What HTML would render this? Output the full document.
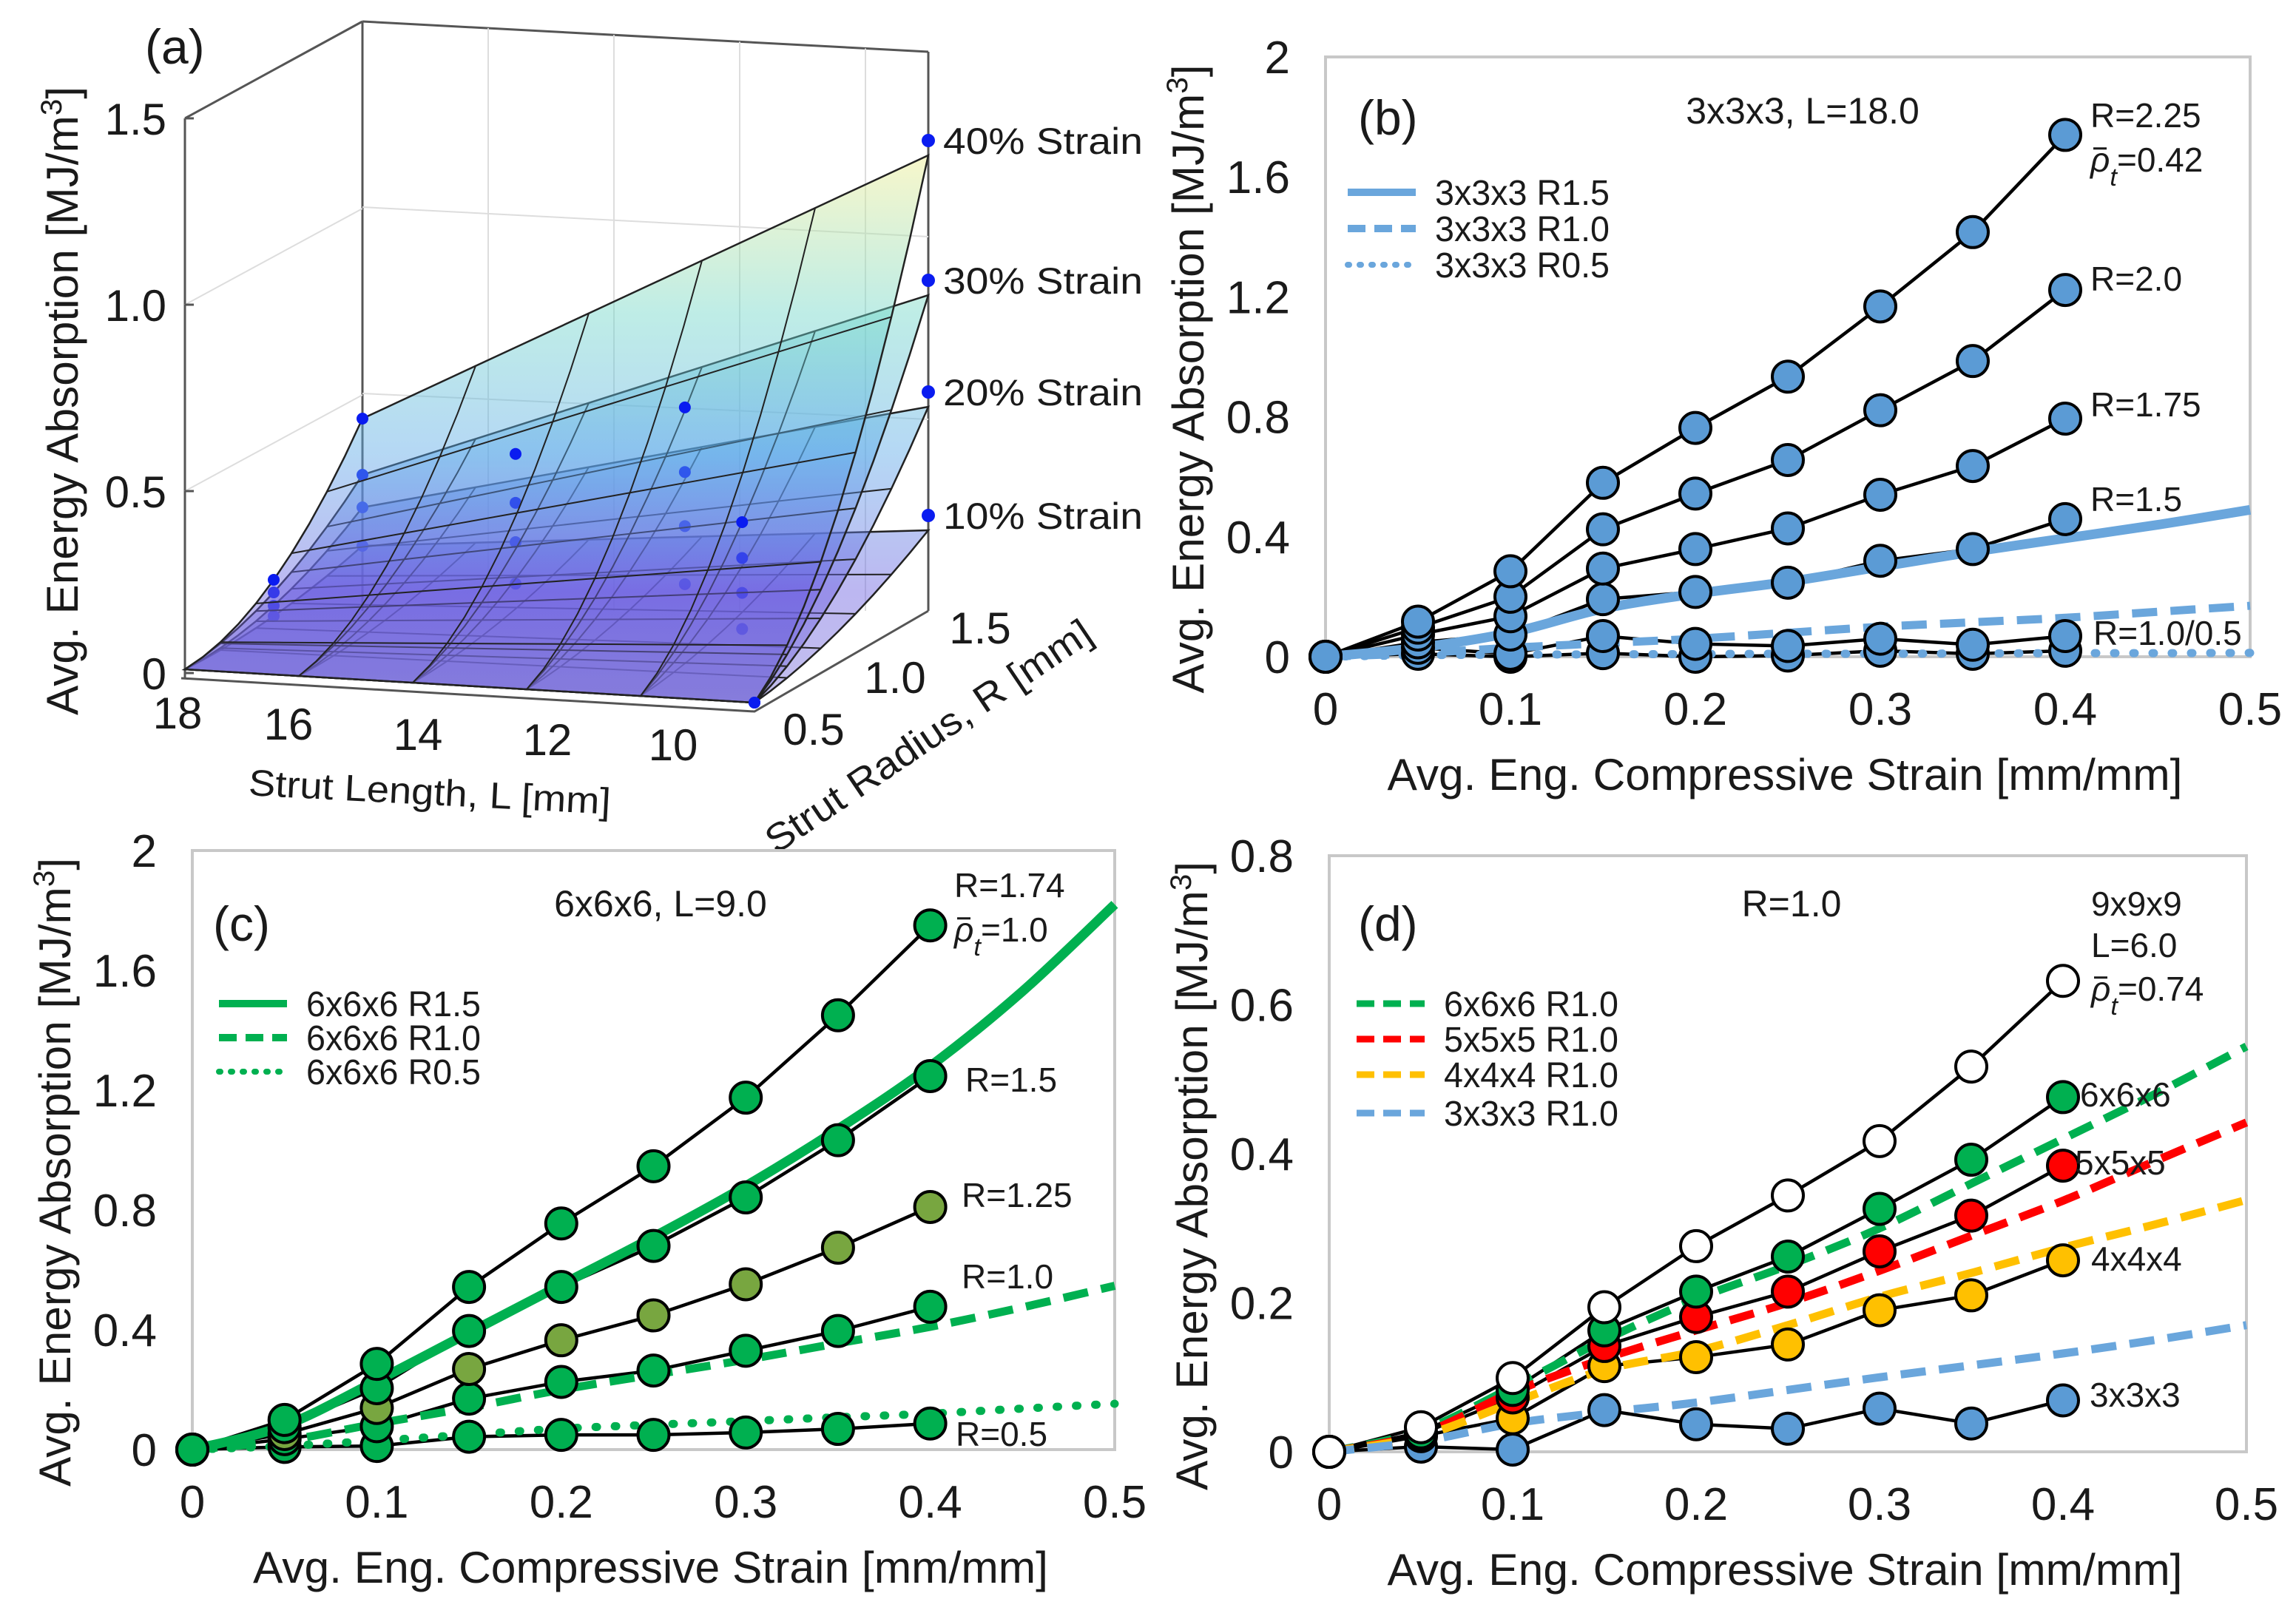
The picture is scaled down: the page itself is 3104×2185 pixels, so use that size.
<!DOCTYPE html>
<html><head><meta charset="utf-8">
<style>
html,body{margin:0;padding:0;background:#fff;}
svg{display:block;}
text{font-family:"Liberation Sans",sans-serif;fill:#1a1a1a;}
</style></head>
<body>
<svg id="fig" width="3104" height="2185" viewBox="0 0 3104 2185" xmlns="http://www.w3.org/2000/svg">
<defs>
<linearGradient id="surfGrad" gradientUnits="userSpaceOnUse" x1="0" y1="200" x2="0" y2="950">
<stop offset="0" stop-color="#f4ee88"/>
<stop offset="0.3" stop-color="#6fd6c8"/>
<stop offset="0.55" stop-color="#5aa8e8"/>
<stop offset="0.8" stop-color="#6b5fe0"/>
<stop offset="1" stop-color="#7a70d8"/>
</linearGradient>
</defs>
<g id="panelA"></g>
<g id="panelB"></g>
<g id="panelC"></g>
<g id="panelD"></g>
</svg>
<script>
// ---------- shared data ----------
const strainX = [0,0.05,0.1,0.15,0.2,0.25,0.3,0.35,0.4];
const fitX = [0,0.05,0.1,0.15,0.2,0.25,0.3,0.35,0.4,0.45,0.5];
const xTickLabels = ["0","0.1","0.2","0.3","0.4","0.5"];
const xTickValues = [0,0.1,0.2,0.3,0.4,0.5];

// Panel (b)
const bTickValues = [0,0.4,0.8,1.2,1.6,2];
const bTickLabels = ["0","0.4","0.8","1.2","1.6","2"];
const bR225 = [0,0.117,0.285,0.58,0.763,0.934,1.168,1.416,1.74];
const bR200 = [0,0.097,0.2,0.425,0.544,0.656,0.822,0.986,1.223];
const bR175 = [0,0.074,0.135,0.294,0.359,0.428,0.54,0.636,0.794];
const bR150 = [0,0.048,0.074,0.192,0.216,0.247,0.32,0.359,0.459];
const bR100 = [0,0.03,0.01,0.069,0.043,0.036,0.06,0.04,0.069];
const bR050 = [0,0.01,0.0,0.012,0.0,0.004,0.02,0.01,0.02];
const bFit15 = [0,0.03,0.08,0.16,0.21,0.25,0.3,0.35,0.395,0.44,0.49];
const bFit10 = [0,0.012,0.03,0.045,0.06,0.08,0.1,0.115,0.13,0.15,0.17];
const bFit05 = [0,0.005,0.007,0.008,0.009,0.01,0.01,0.011,0.012,0.012,0.013];

// Panel (c)
const cR174 = [0,0.099,0.286,0.543,0.755,0.946,1.175,1.45,1.75];
const cR150 = [0,0.075,0.205,0.396,0.543,0.68,0.842,1.033,1.247];
const cR125 = [0,0.052,0.139,0.269,0.365,0.448,0.552,0.674,0.81];
const cR100 = [0,0.035,0.078,0.17,0.226,0.264,0.33,0.396,0.477];
const cR050 = [0,0.009,0.012,0.043,0.049,0.049,0.057,0.069,0.087];
const cFit15 = [0,0.08,0.23,0.39,0.55,0.71,0.88,1.07,1.28,1.53,1.82];
const cFit10 = [0,0.03,0.087,0.14,0.2,0.25,0.3,0.355,0.41,0.475,0.547];
const cFit05 = [0,0.012,0.03,0.05,0.07,0.083,0.095,0.108,0.12,0.137,0.153];

// Panel (d)
const dTickValues = [0,0.2,0.4,0.6,0.8];
const dTickLabels = ["0","0.2","0.4","0.6","0.8"];
const d999 = [0,0.033,0.099,0.194,0.276,0.344,0.417,0.517,0.632];
const d666 = [0,0.026,0.083,0.163,0.215,0.262,0.326,0.392,0.476];
const d555 = [0,0.024,0.073,0.142,0.181,0.215,0.269,0.317,0.384];
const d444 = [0,0.021,0.045,0.115,0.127,0.144,0.19,0.21,0.257];
const d333 = [0,0.007,0.003,0.056,0.037,0.031,0.058,0.038,0.069];
const dFit666 = [0,0.028,0.087,0.15,0.205,0.25,0.3,0.36,0.42,0.48,0.544];
const dFit555 = [0,0.024,0.08,0.125,0.163,0.2,0.243,0.29,0.337,0.39,0.442];
const dFit444 = [0,0.021,0.066,0.11,0.135,0.17,0.208,0.24,0.274,0.305,0.338];
const dFit333 = [0,0.014,0.038,0.053,0.066,0.083,0.1,0.116,0.132,0.15,0.17];

// Panel (a) 3D surface data: edge heights (screen y) for 10/20/30/40% strain
const aStrains = ["10% Strain","20% Strain","30% Strain","40% Strain"];
const aBackLeft = [738,686,642,566];
const aBackRight = [717,550,399,210];
const aMidLeft = [833,819,801,784];
const aMidRight = [854,798,745,690];
const aZTicks = ["0","0.5","1.0","1.5"];
const aLTicks = ["18","16","14","12","10"];
const aRTicks = ["0.5","1.0","1.5"];

const NS = "http://www.w3.org/2000/svg";
function mk(parent, tag, attrs, txt){
  const e = document.createElementNS(NS, tag);
  for (const k in attrs) e.setAttribute(k, attrs[k]);
  if (txt !== undefined) e.textContent = txt;
  parent.appendChild(e);
  return e;
}
function smoothPath(pts){
  let d = 'M'+pts[0][0]+','+pts[0][1];
  for (let i=0;i<pts.length-1;i++){
    const p0=pts[Math.max(0,i-1)], p1=pts[i], p2=pts[i+1], p3=pts[Math.min(pts.length-1,i+2)];
    const c1=[p1[0]+(p2[0]-p0[0])/6, p1[1]+(p2[1]-p0[1])/6];
    const c2=[p2[0]-(p3[0]-p1[0])/6, p2[1]-(p3[1]-p1[1])/6];
    d += ' C'+c1[0]+','+c1[1]+' '+c2[0]+','+c2[1]+' '+p2[0]+','+p2[1];
  }
  return d;
}

// ---------- generic 2D panel ----------
function drawPanel(g, cfg){
  const sx = v => cfg.x0 + (cfg.x1 - cfg.x0) * v / 0.5;
  const sy = v => cfg.y0 - (cfg.y0 - cfg.y1) * v / cfg.ymax;
  const box = mk(g,'rect',{x:cfg.x0,y:cfg.y1,width:cfg.x1-cfg.x0,height:cfg.y0-cfg.y1,fill:'none',stroke:'#c8c8c8','stroke-width':4});
  
  
  xTickValues.forEach((v,i)=>{
    const t = mk(g,'text',{x:sx(v),y:cfg.y0+92,'font-size':62,'text-anchor':'middle'}, xTickLabels[i]);
    
    
  });
  cfg.yTicks.forEach((v,i)=>{
    const t = mk(g,'text',{x:cfg.x0-48,y:sy(v)+22,'font-size':62,'text-anchor':'end'}, cfg.yLabels[i]);
    
    
  });
  const xt = mk(g,'text',{x:(cfg.x0+cfg.x1)/2-4,y:cfg.y0+180,'font-size':60,'text-anchor':'middle',textLength:1075,lengthAdjust:'spacingAndGlyphs'},'Avg. Eng. Compressive Strain [mm/mm]');
  
  
  const yc = (cfg.y0+cfg.y1)/2 + 30;
  const yt = mk(g,'text',{x:0,y:0,'font-size':60,'text-anchor':'middle',transform:`translate(${cfg.x0-165},${yc}) rotate(-90)`,textLength:850,lengthAdjust:'spacingAndGlyphs'});
  
  
  yt.appendChild(document.createTextNode('Avg. Energy Absorption [MJ/m'));
  mk(yt,'tspan',{'baseline-shift':'super','font-size':40},'3');
  yt.appendChild(document.createTextNode(']'));
  cfg.series.forEach(s=>{
    const pl = mk(g,'polyline',{points:strainX.map((x,i)=>sx(x)+','+sy(s.v[i])).join(' '),fill:'none',stroke:'#000','stroke-width':4.5});
    
    
  });
  cfg.fits.forEach(f=>{
    const pl = mk(g,'path',{d:smoothPath(fitX.map((x,i)=>[sx(x),sy(f.v[i])])),fill:'none',stroke:f.c,'stroke-width':f.w,'stroke-dasharray':f.d,'stroke-linecap':f.cap||'butt'});
    
    
  });
  cfg.series.forEach(s=>{
    strainX.forEach((x,i)=>{
      const c = mk(g,'circle',{cx:sx(x),cy:sy(s.v[i]),r:21,fill:s.c,stroke:'#000','stroke-width':4});
      
      
    });
  });
  cfg.legend.forEach((l,i)=>{
    const ly = cfg.legY[i];
    const ln = mk(g,'line',{x1:cfg.legX,y1:ly,x2:cfg.legX+92,y2:ly,stroke:l.c,'stroke-width':l.w,'stroke-dasharray':l.d,'stroke-linecap':l.cap||'butt'});
    
    
    const t = mk(g,'text',{x:cfg.legX+118,y:ly+17,'font-size':48,textLength:l.tl||236,lengthAdjust:'spacingAndGlyphs'},l.t);
    
    
  });
  cfg.notes.forEach(n=>{
    const fs = n.fs||46;
    const t = mk(g,'text',{x:n.x,y:n.y,'font-size':fs,'text-anchor':n.a||'start'});
    
    
    if (n.rho){
      mk(t,'tspan',{'font-style':'italic'},'ρ');
      mk(t,'tspan',{'font-style':'italic','baseline-shift':'sub','font-size':fs*0.75},'t');
      t.appendChild(document.createTextNode('='+n.t));
      const bar = mk(g,'line',{x1:n.x+4,y1:n.y-fs*0.68,x2:n.x+22,y2:n.y-fs*0.68,stroke:'#1a1a1a','stroke-width':3});
      
      
    } else t.textContent = n.t;
  });
}

const BLUE='#5b9bd5', GREEN='#00b050', OLIVE='#78a640', RED='#ff0000', YEL='#ffc000', FITB='#6aa6dc';
drawPanel(document.getElementById('panelB'),{
  x0:1792,x1:3042,y0:888,y1:77,ymax:2,yTicks:bTickValues,yLabels:bTickLabels,
  series:[{name:'r-0.5',v:bR050,c:BLUE},{name:'r-1.0',v:bR100,c:BLUE},{name:'r-1.5',v:bR150,c:BLUE},{name:'r-1.75',v:bR175,c:BLUE},{name:'r-2.0',v:bR200,c:BLUE},{name:'r-2.25',v:bR225,c:BLUE}],
  fits:[{name:'fit-r1.5',v:bFit15,c:FITB,w:13,d:'none'},{name:'fit-r1.0',v:bFit10,c:FITB,w:11,d:'34 18'},{name:'fit-r0.5',v:bFit05,c:FITB,w:11,d:'2 24',cap:'round'}],
  legX:1822,legY:[260,309,358],
  legend:[{t:'3x3x3 R1.5',c:FITB,w:10,d:'none'},{t:'3x3x3 R1.0',c:FITB,w:10,d:'24 12'},{t:'3x3x3 R0.5',c:FITB,w:8,d:'2 14',cap:'round'}],
  notes:[{t:'(b)',x:1836,y:182,fs:66,name:'panel-label'},{t:'3x3x3, L=18.0',x:2437,y:167,fs:50,a:'middle',name:'panel-title'},
    {t:'R=2.25',x:2826,y:172},{t:'0.42',x:2826,y:232,rho:true},{t:'R=2.0',x:2826,y:393},{t:'R=1.75',x:2826,y:563},{t:'R=1.5',x:2826,y:691},{t:'R=1.0/0.5',x:2830,y:872}]
});
drawPanel(document.getElementById('panelC'),{
  x0:260,x1:1507,y0:1960,y1:1150,ymax:2,yTicks:bTickValues,yLabels:bTickLabels,
  series:[{name:'r-0.5',v:cR050,c:GREEN},{name:'r-1.0',v:cR100,c:GREEN},{name:'r-1.25',v:cR125,c:OLIVE},{name:'r-1.5',v:cR150,c:GREEN},{name:'r-1.74',v:cR174,c:GREEN}],
  fits:[{name:'fit-r1.5',v:cFit15,c:GREEN,w:13,d:'none'},{name:'fit-r1.0',v:cFit10,c:GREEN,w:11,d:'34 18'},{name:'fit-r0.5',v:cFit05,c:GREEN,w:11,d:'2 24',cap:'round'}],
  legX:296,legY:[1357,1403,1449],
  legend:[{t:'6x6x6 R1.5',c:GREEN,w:10,d:'none'},{t:'6x6x6 R1.0',c:GREEN,w:10,d:'24 12'},{t:'6x6x6 R0.5',c:GREEN,w:8,d:'2 14',cap:'round'}],
  notes:[{t:'(c)',x:288,y:1272,fs:66,name:'panel-label'},{t:'6x6x6, L=9.0',x:893,y:1239,fs:50,a:'middle',name:'panel-title'},
    {t:'R=1.74',x:1290,y:1213},{t:'1.0',x:1290,y:1273,rho:true},{t:'R=1.5',x:1305,y:1476},{t:'R=1.25',x:1300,y:1632},{t:'R=1.0',x:1300,y:1742},{t:'R=0.5',x:1292,y:1955}]
});
drawPanel(document.getElementById('panelD'),{
  x0:1797,x1:3037,y0:1963,y1:1157,ymax:0.8,yTicks:dTickValues,yLabels:dTickLabels,
  series:[{name:'3x3x3',v:d333,c:BLUE},{name:'4x4x4',v:d444,c:YEL},{name:'5x5x5',v:d555,c:RED},{name:'6x6x6',v:d666,c:GREEN},{name:'9x9x9',v:d999,c:'#ffffff'}],
  fits:[{name:'fit-6x6x6',v:dFit666,c:GREEN,w:11,d:'34 18'},{name:'fit-5x5x5',v:dFit555,c:RED,w:11,d:'34 18'},{name:'fit-4x4x4',v:dFit444,c:YEL,w:11,d:'34 18'},{name:'fit-3x3x3',v:dFit333,c:FITB,w:11,d:'34 18'}],
  legX:1834,legY:[1357,1405,1453,1505],
  legend:[{t:'6x6x6 R1.0',c:GREEN,w:9,d:'24 12'},{t:'5x5x5 R1.0',c:RED,w:9,d:'24 12'},{t:'4x4x4 R1.0',c:YEL,w:9,d:'24 12'},{t:'3x3x3 R1.0',c:FITB,w:9,d:'24 12'}],
  notes:[{t:'(d)',x:1836,y:1272,fs:66,name:'panel-label'},{t:'R=1.0',x:2422,y:1239,fs:50,a:'middle',name:'panel-title'},
    {t:'9x9x9',x:2827,y:1238},{t:'L=6.0',x:2827,y:1294},{t:'0.74',x:2827,y:1353,rho:true},
    {t:'6x6x6',x:2812,y:1496},{t:'5x5x5',x:2805,y:1588},{t:'4x4x4',x:2827,y:1718},{t:'3x3x3',x:2825,y:1902}]
});

// ---------- panel (a) ----------
(function(){
  const g = document.getElementById('panelA');
  const gray = '#555';
  const walls = [[250,160,490,29],[490,29,1255,70],[490,29,490,826],[1255,70,1255,826],[250,160,250,917]];
  walls.forEach(w=>{const l=mk(g,'line',{x1:w[0],y1:w[1],x2:w[2],y2:w[3],stroke:gray,'stroke-width':3});
     });
  [660,830,1000,1170].forEach(x=>{const l=mk(g,'line',{x1:x,y1:29+(x-490)*41/765,x2:x,y2:826,stroke:'#ddd','stroke-width':2});
     });
  [[280,320],[532,567]].forEach(p=>{const l=mk(g,'line',{x1:490,y1:p[0],x2:1255,y2:p[1],stroke:'#ddd','stroke-width':2});
     });
  [412,664].forEach(y=>{const l=mk(g,'line',{x1:250,y1:y,x2:490,y2:y-130,stroke:'#ddd','stroke-width':2});
     });
  const fl = mk(g,'polyline',{points:'245,917 1020,962 1255,826',fill:'none',stroke:gray,'stroke-width':3});
   
  const FL=[250,905], FR=[1020,950];
  function q(a,b,c,t){return (1-t)*(1-t)*a+2*(1-t)*t*b+t*t*c;}
  for (let i=0;i<aStrains.length;i++){
    const BL=[490,aBackLeft[i]], BR=[1255,aBackRight[i]];
    const ML=[370,aMidLeft[i]], MR=[1133,aMidRight[i]];
    const P=(u,v)=>{
      const f=[FL[0]+(FR[0]-FL[0])*u, FL[1]+(FR[1]-FL[1])*u];
      const m=[ML[0]+(MR[0]-ML[0])*u, ML[1]+(MR[1]-ML[1])*u];
      const b=[BL[0]+(BR[0]-BL[0])*u, BL[1]+(BR[1]-BL[1])*u];
      const mx = 2*m[0]-0.5*(f[0]+b[0]), my = 2*m[1]-0.5*(f[1]+b[1]);
      return [q(f[0],mx,b[0],v), q(f[1],my,b[1],v)];
    };
    const pts=[];
    for(let k=0;k<=10;k++) pts.push(P(0,k/10));
    for(let k=0;k<=10;k++) pts.push(P(k/10,1));
    for(let k=10;k>=0;k--) pts.push(P(1,k/10));
    for(let k=10;k>=0;k--) pts.push(P(k/10,0));
    const s = mk(g,'polygon',{points:pts.map(p=>p.join(',')).join(' '),fill:'url(#surfGrad)','fill-opacity':0.45,stroke:'#222','stroke-width':2.5});
    
    
    for(let a=1;a<5;a++){
      const u=a/5, lp=[]; for(let k=0;k<=10;k++) lp.push(P(u,k/10));
      const l=mk(g,'polyline',{points:lp.map(p=>p.join(',')).join(' '),fill:'none',stroke:'#222','stroke-width':2});
       
      const v=a/5, lp2=[]; for(let k=0;k<=10;k++) lp2.push(P(k/10,v));
      const l2=mk(g,'polyline',{points:lp2.map(p=>p.join(',')).join(' '),fill:'none',stroke:'#222','stroke-width':2});
       
    }
    [P(0,1),P(0,0.5),P(0.35,0.75),P(0.65,0.75),P(0.83,0.5),P(1,0)].forEach(p=>{
      const c=mk(g,'circle',{cx:p[0],cy:p[1],r:8,fill:'#0a1cf0'});
       
    });
    const d=mk(g,'circle',{cx:1255,cy:aBackRight[i]-20,r:9,fill:'#0a1cf0'});
     
    const t=mk(g,'text',{x:1275,y:aBackRight[i]-2,'font-size':50,textLength:270,lengthAdjust:'spacingAndGlyphs'},aStrains[i]);
     
  }
  const zY=[910,664,412,160];
  aZTicks.forEach((z,i)=>{
    const t=mk(g,'text',{x:225,y:zY[i]+22,'font-size':60,'text-anchor':'end'},z);
     
    const l=mk(g,'line',{x1:250,y1:zY[i],x2:262,y2:zY[i],stroke:gray,'stroke-width':3});
     
  });
  const lX=[240,390,565,740,910], lY=[985,1000,1014,1021,1028];
  aLTicks.forEach((s,i)=>{
    const t=mk(g,'text',{x:lX[i],y:lY[i],'font-size':60,'text-anchor':'middle'},s);
     
  });
  const rX=[1100,1210,1325], rY=[1007,937,870];
  aRTicks.forEach((s,i)=>{
    const t=mk(g,'text',{x:rX[i],y:rY[i],'font-size':60,'text-anchor':'middle'},s);
     
  });
  const lt=mk(g,'text',{x:580,y:1088,'font-size':50,'text-anchor':'middle',transform:'rotate(3 580 1088)',textLength:490,lengthAdjust:'spacingAndGlyphs'},'Strut Length, L [mm]');
   
  const rt=mk(g,'text',{x:1265,y:1010,'font-size':52,'text-anchor':'middle',transform:'rotate(-34 1265 1010)',textLength:520,lengthAdjust:'spacingAndGlyphs'},'Strut Radius, R [mm]');
   
  const zt=mk(g,'text',{x:0,y:0,'font-size':60,'text-anchor':'middle',transform:'translate(105,542) rotate(-90)',textLength:850,lengthAdjust:'spacingAndGlyphs'});
   
  zt.appendChild(document.createTextNode('Avg. Energy Absorption [MJ/m'));
  mk(zt,'tspan',{'baseline-shift':'super','font-size':40},'3');
  zt.appendChild(document.createTextNode(']'));
  const pl=mk(g,'text',{x:196,y:86,'font-size':66},'(a)');
   
})();
</script>
</body></html>
